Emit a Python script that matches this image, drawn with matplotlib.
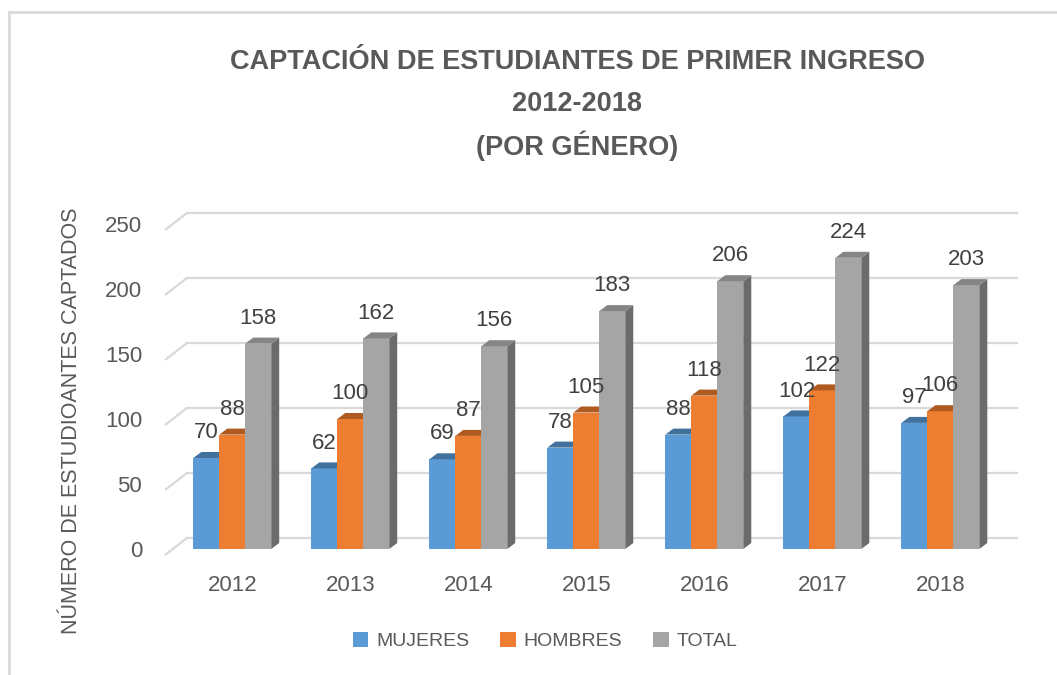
"""3D-style clustered columns: first-year student intake by gender."""

import matplotlib
matplotlib.use("Agg")
import matplotlib.pyplot as plt
from matplotlib.patches import Polygon, Patch
from matplotlib.lines import Line2D

plt.rcParams['font.family'] = ['Liberation Sans', 'DejaVu Sans']

years = ["2012", "2013", "2014", "2015", "2016", "2017", "2018"]
mujeres = [70, 62, 69, 78, 88, 102, 97]
hombres = [88, 100, 87, 105, 118, 122, 106]
total = [158, 162, 156, 183, 206, 224, 203]
series_names = ["MUJERES", "HOMBRES", "TOTAL"]
y_ticks = [0, 50, 100, 150, 200, 250]

# front / top / side face colours per series
faces = [("#5B9BD5", "#41719C", "#41719C"),
         ("#ED7D31", "#AE5A21", "#AE5A21"),
         ("#A5A5A5", "#858585", "#6B6B6B")]

W, H = 1057, 675
fig = plt.figure(figsize=(W / 100, H / 100), dpi=100)
ax = fig.add_axes([165 / W, 126 / H, 832 / W, 325 / H])
ax.set_xlim(-0.57, 6.48)
ax.set_ylim(0, 250)

px_x = 7.05 / 832     # data units per pixel (x)
px_y = 250 / 325      # data units per pixel (y)

# wall gridlines with the perspective diagonal on the left
grid_c = "#D9D9D9"
x0 = -0.57
for v in y_ticks:
    yb = v + 11 * px_y
    yf = v - 6 * px_y
    ax.plot([x0, x0 + 22 * px_x], [yf, yb], color=grid_c, lw=1.6,
            clip_on=False, zorder=1, solid_capstyle="butt")
    ax.plot([x0 + 22 * px_x, 6.48 + 20 * px_x], [yb, yb], color=grid_c,
            lw=1.6, clip_on=False, zorder=1)

bw = 0.22
dx, dy = 8 * px_x, 6 * px_y
data = [mujeres, hombres, total]
for i in range(len(years)):
    for k, vals in enumerate(data):
        v = vals[i]
        xl = i + (k - 1) * bw - bw / 2
        xr = xl + bw
        front, top, side = faces[k]
        z = 2 + i * 3 + k
        ax.add_patch(Polygon([(xr, 0), (xr, v), (xr + dx, v + dy),
                              (xr + dx, dy)], closed=True, fc=side,
                             ec="none", zorder=z, clip_on=False))
        ax.add_patch(Polygon([(xl, 0), (xr, 0), (xr, v), (xl, v)],
                             closed=True, fc=front, ec="none", zorder=z,
                             clip_on=False))
        ax.add_patch(Polygon([(xl, v), (xr, v), (xr + dx, v + dy),
                              (xl + dx, v + dy)], closed=True, fc=top,
                             ec="none", zorder=z, clip_on=False))
        ax.text((xl + xr) / 2, v + 19.5, str(v), ha="center", va="center",
                fontsize=16, color="#404040", zorder=50)

ax.set_xticks(range(len(years)))
ax.set_xticklabels(years)
ax.set_yticks(y_ticks)
ax.tick_params(axis="x", length=0, pad=19, labelsize=16, labelcolor="#595959")
ax.tick_params(axis="y", length=0, pad=16.5, labelsize=16, labelcolor="#595959")
for s in ax.spines.values():
    s.set_visible(False)
ax.set_facecolor("none")

ax.set_ylabel("NÚMERO DE ESTUDIOANTES CAPTADOS", fontsize=15.5,
              color="#595959")
ax.yaxis.set_label_coords((82 - 165) / 832, (549 - 421) / 325)

title_lines = ["CAPTACIÓN DE ESTUDIANTES DE PRIMER INGRESO", "2012-2018",
               "(POR GÉNERO)"]
for j, line in enumerate(title_lines):
    fig.text(577 / W, 1 - (62 + 42 * j) / H, line, ha="center",
             va="center", fontsize=19.5, fontweight="bold", color="#595959")

handles = [Patch(fc=f[0], ec="none") for f in faces]
fig.legend(handles, series_names, loc="center", ncol=3, frameon=False,
           bbox_to_anchor=(545 / W, 1 - 641 / H), fontsize=14,
           handlelength=0.8, handleheight=0.8, handletextpad=0.4,
           columnspacing=1.6, labelcolor="#595959")

# chart frame (only top and left edges are visible in the crop)
border = "#D9D9D9"
fig.add_artist(Line2D([9 / W, 1], [1 - 12 / H, 1 - 12 / H], color=border,
                      lw=2, transform=fig.transFigure))
fig.add_artist(Line2D([9 / W, 9 / W], [0, 1 - 12 / H], color=border,
                      lw=2, transform=fig.transFigure))

fig.savefig("out.png", dpi=100)
